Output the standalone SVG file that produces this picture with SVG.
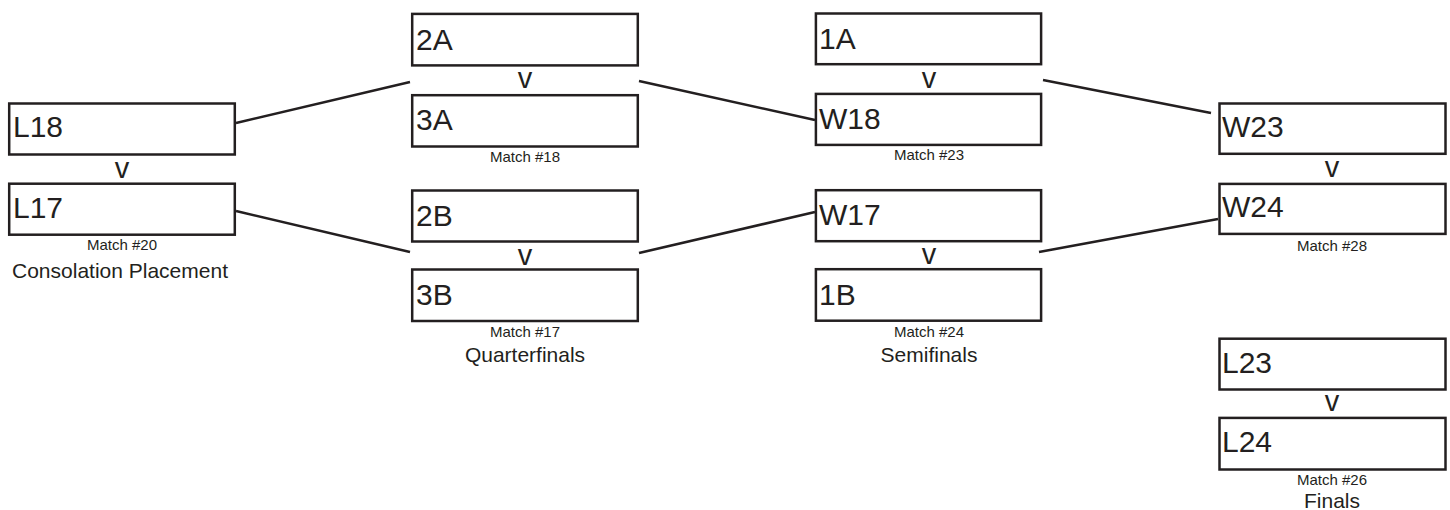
<svg xmlns="http://www.w3.org/2000/svg" width="1450" height="510" viewBox="0 0 1450 510">
<style>
.box{fill:#fff;stroke:#231f20;stroke-width:2.5}
.lbl{font-family:"Liberation Sans",Arial,sans-serif;font-size:30px;fill:#231f20}
.vs{font-family:"Liberation Sans",Arial,sans-serif;font-size:29px;fill:#231f20;text-anchor:middle}
.match{font-family:"Liberation Sans",Arial,sans-serif;font-size:15px;fill:#231f20;text-anchor:middle}
.stage{font-family:"Liberation Sans",Arial,sans-serif;font-size:21px;fill:#231f20;text-anchor:middle}
.conn{stroke:#231f20;stroke-width:2.5;fill:none}
</style>
<rect width="1450" height="510" fill="#fff"/>
<g id="connectors">
<line class="conn" x1="236" y1="123" x2="410" y2="82"/>
<line class="conn" x1="236" y1="211" x2="410" y2="252"/>
<line class="conn" x1="639" y1="81" x2="815" y2="120"/>
<line class="conn" x1="639" y1="253" x2="815" y2="212"/>
<line class="conn" x1="1043" y1="80" x2="1211" y2="113"/>
<line class="conn" x1="1039" y1="252" x2="1218" y2="219"/>
</g>
<g id="match20">
<g id="L18"><rect class="box" x="9.2" y="103.5" width="225.6" height="51"/><text class="lbl" x="13" y="137">L18</text></g>
<text class="vs" x="122" y="178">v</text>
<g id="L17"><rect class="box" x="9.2" y="183.7" width="225.6" height="51"/><text class="lbl" x="13" y="218">L17</text></g>
<text class="match" x="122" y="250">Match #20</text>
</g>
<text class="stage" x="120" y="278">Consolation Placement</text>
<g id="match18">
<g id="n2A"><rect class="box" x="412.2" y="13.9" width="225.6" height="51.5"/><text class="lbl" x="416" y="50">2A</text></g>
<text class="vs" x="525" y="88">v</text>
<g id="n3A"><rect class="box" x="412.2" y="95.2" width="225.6" height="51.3"/><text class="lbl" x="416" y="130">3A</text></g>
<text class="match" x="525" y="162">Match #18</text>
</g>
<g id="match17">
<g id="n2B"><rect class="box" x="412.2" y="190.5" width="225.6" height="51"/><text class="lbl" x="416" y="226">2B</text></g>
<text class="vs" x="525" y="265">v</text>
<g id="n3B"><rect class="box" x="412.2" y="269.5" width="225.6" height="51.5"/><text class="lbl" x="416" y="305">3B</text></g>
<text class="match" x="525" y="337">Match #17</text>
</g>
<text class="stage" x="525" y="362">Quarterfinals</text>
<g id="match23">
<g id="n1A"><rect class="box" x="815.9" y="13.5" width="225.2" height="50.7"/><text class="lbl" x="819" y="48.5">1A</text></g>
<text class="vs" x="929" y="88">v</text>
<g id="W18"><rect class="box" x="815.9" y="93.9" width="225.2" height="51"/><text class="lbl" x="819" y="129">W18</text></g>
<text class="match" x="929" y="160">Match #23</text>
</g>
<g id="match24">
<g id="W17"><rect class="box" x="815.9" y="190.2" width="225.2" height="51"/><text class="lbl" x="819" y="225">W17</text></g>
<text class="vs" x="929" y="264">v</text>
<g id="n1B"><rect class="box" x="815.9" y="269.2" width="225.2" height="51.5"/><text class="lbl" x="819" y="305">1B</text></g>
<text class="match" x="929" y="337">Match #24</text>
</g>
<text class="stage" x="929" y="362">Semifinals</text>
<g id="match28">
<g id="W23"><rect class="box" x="1219.5" y="103.5" width="226" height="50.3"/><text class="lbl" x="1222" y="137">W23</text></g>
<text class="vs" x="1332" y="177">v</text>
<g id="W24"><rect class="box" x="1219.5" y="183.9" width="226" height="50"/><text class="lbl" x="1222" y="217">W24</text></g>
<text class="match" x="1332" y="251">Match #28</text>
</g>
<g id="match26">
<g id="L23"><rect class="box" x="1219.5" y="338.7" width="226" height="50.8"/><text class="lbl" x="1222" y="373">L23</text></g>
<text class="vs" x="1332" y="410.5">v</text>
<g id="L24"><rect class="box" x="1219.5" y="417.9" width="226" height="51.6"/><text class="lbl" x="1222" y="452">L24</text></g>
<text class="match" x="1332" y="485">Match #26</text>
</g>
<text class="stage" x="1332" y="508">Finals</text>
</svg>
